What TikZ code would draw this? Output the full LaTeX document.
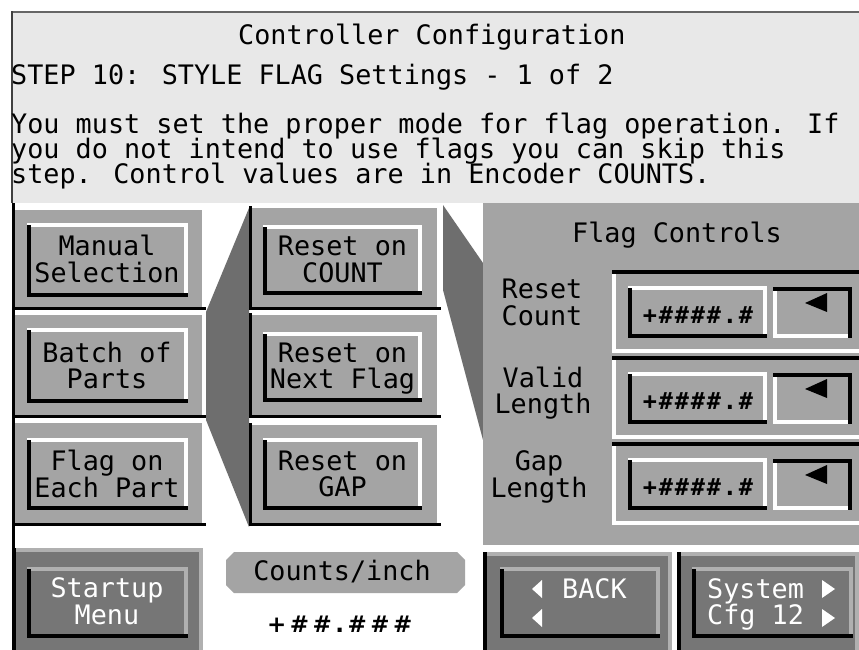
\documentclass[tikz,border=0pt]{standalone}
\usepackage{fontspec}
\newfontfamily\pix{DejaVu Sans Mono}
\newfontfamily\pixfield[LetterSpace=8]{DejaVu Sans Mono Bold}
\newfontfamily\pixwide[LetterSpace=15]{DejaVu Sans Bold}

\definecolor{panelbg}{HTML}{E8E8E8}
\definecolor{btn}{HTML}{A4A4A4}
\definecolor{linkgray}{HTML}{6E6E6E}
\definecolor{dkbtn}{HTML}{767676}
\definecolor{edge}{HTML}{B0B0B0}

% raised face: light top/right edges, black left/bottom edges
\newcommand\raisedface[6]{%
  \fill[#5] (#1,#2) rectangle (#3,#4);
  \fill[#6] (#1,#2) rectangle (#3,#2+4);
  \fill[#6] (#3-4,#2) rectangle (#3,#4);
  \fill[black] (#1,#2+2) rectangle (#1+4,#4);
  \fill[black] (#1,#4-4) rectangle (#3,#4);
}
% outer plate of a key: black left and bottom edges
\newcommand\keyplate[5]{%
  \fill[#5] (#1,#2) rectangle (#3,#4);
  \fill[black] (#1,#2-2) rectangle (#1+3,#4);
  \fill[black] (#1,#4-3) rectangle (#3+4,#4);
}
% dark plate: light top/right edges, black left edge
\newcommand\darkplate[4]{%
  \fill[dkbtn] (#1,#2) rectangle (#3,#4);
  \fill[edge] (#1,#2) rectangle (#3,#2+4);
  \fill[edge] (#3-4,#2) rectangle (#3,#4);
  \fill[black] (#1,#2) rectangle (#1+4,#4);
}
% one row of the flag controls: sunken frame, value field and arrow key
\newcommand\flagrow[2]{%
  \fill[black] (612,#1) rectangle (859,#1+4);
  \fill[white] (612,#1+4) rectangle (616,#1+83);
  \fill[white] (612,#1+79) rectangle (859,#1+83);
  \raisedface{628}{#1+16}{767}{#1+68}{btn}{white}
  \fill[btn] (773,#1+17) rectangle (852,#1+68);
  \fill[white] (773,#1+17) rectangle (777,#1+68);
  \fill[white] (773,#1+64) rectangle (852,#1+68);
  \fill[black] (773,#1+17) rectangle (852,#1+21);
  \fill[black] (848,#1+17) rectangle (852,#1+68);
  \fill[black] (805,#1+33) -- (827,#1+23) -- (827,#1+42) -- cycle;
  \node[fieldtxt] (#2) at (698,#1+53) {+\#\#\#\#.\#};
}

\tikzset{
  txt/.style={font=\pix\fontsize{26.8}{27}\selectfont, inner sep=0pt, anchor=base},
  wtxt/.style={txt, text=white},
  fieldtxt/.style={font=\pixfield\fontsize{23.5}{24}\selectfont, inner sep=0pt, anchor=base},
}

\begin{document}
\begin{tikzpicture}[x=1pt,y=-1pt]
\useasboundingbox (0,0) rectangle (859,650);
\fill[white] (0,0) rectangle (859,650);

% message panel
\fill[panelbg] (12,12) rectangle (859,203);
\fill[black!60] (11,11) rectangle (859,13);
\fill[black!75] (11,11) rectangle (13,203);
\node[txt, anchor=base west] (title) at (238,45) {Controller Configuration};
\node[txt, anchor=base west] (stepline) at (11,85) {STEP 10: STYLE FLAG Settings - 1 of 2};
\node[txt, anchor=base west] (msga) at (11,134) {You must set the proper mode for flag operation. If};
\node[txt, anchor=base west] (msgb) at (11,158.5) {you do not intend to use flags you can skip this};
\node[txt, anchor=base west] (msgc) at (11,183) {step.  Control values are in Encoder COUNTS.};

% left edge of the key area
\fill[black] (12,203) rectangle (15,650);

% shaded links between the columns
\fill[linkgray] (249,208) -- (206,312) -- (206,420) -- (249,527) -- cycle;
\fill[linkgray] (443,205) -- (483,263) -- (483,440) -- (443,290) -- cycle;

% flag controls panel
\fill[btn] (483,203) rectangle (859,545);
\node[txt] (flagctl) at (677,242) {Flag Controls};
\flagrow{270}{valA}
\flagrow{356}{valB}
\flagrow{442}{valC}
\node[txt] (lrA1) at (542,298) {Reset};
\node[txt] (lrA2) at (542,325) {Count};
\node[txt] (lrB1) at (543,387) {Valid};
\node[txt] (lrB2) at (543,413) {Length};
\node[txt] (lrC1) at (539,470) {Gap};
\node[txt] (lrC2) at (539,497) {Length};

% mode keys, left column
\keyplate{12}{210}{202}{310}{btn}
\raisedface{27}{223}{188}{297}{btn}{white}
\node[txt] (k1a) at (107,255) {Manual};
\node[txt] (k1b) at (107,282) {Selection};
\keyplate{12}{315}{202}{418}{btn}
\raisedface{27}{328}{188}{403}{btn}{white}
\node[txt] (k2a) at (107,362) {Batch of};
\node[txt] (k2b) at (107,388) {Parts};
\keyplate{12}{423}{202}{526}{btn}
\raisedface{27}{438}{188}{510}{btn}{white}
\node[txt] (k3a) at (107,470) {Flag on};
\node[txt] (k3b) at (107,497) {Each Part};

% reset keys, middle column
\keyplate{249}{208}{437}{310}{btn}
\raisedface{263}{225}{422}{295}{btn}{white}
\node[txt] (r1a) at (342.5,255) {Reset on};
\node[txt] (r1b) at (342.5,282) {COUNT};
\keyplate{249}{315}{437}{418}{btn}
\raisedface{263}{332}{422}{402}{btn}{white}
\node[txt] (r2a) at (342.5,362) {Reset on};
\node[txt] (r2b) at (342.5,388) {Next Flag};
\keyplate{249}{425}{437}{526}{btn}
\raisedface{263}{438}{422}{510}{btn}{white}
\node[txt] (r3a) at (342.5,470) {Reset on};
\node[txt] (r3b) at (342.5,496) {GAP};

% counts per inch readout
\fill[btn] (234,552) -- (457,552) -- (465,560) -- (465,585) -- (457,593)
  -- (234,593) -- (226,585) -- (226,560) -- cycle;
\node[txt] (cpi) at (342,580) {Counts/inch};
\node[font=\pixwide\fontsize{23}{24}\selectfont, inner sep=0pt, anchor=base west]
  (cpival) at (267,632) {+\#\#.\#\#\#};

% navigation keys
\darkplate{12}{548}{203}{650}
\raisedface{27}{567}{188}{638}{dkbtn}{edge}
\node[wtxt] (startA) at (107,597) {Startup};
\node[wtxt] (startB) at (107,624) {Menu};

\darkplate{483}{552}{672}{650}
\raisedface{500}{567}{660}{638}{dkbtn}{edge}
\fill[white] (532,589) -- (542,580) -- (542,598) -- cycle;
\fill[white] (532,618) -- (542,609) -- (542,627) -- cycle;
\node[wtxt, anchor=base west] (back) at (562,598) {BACK};

\darkplate{677}{552}{859}{650}
\raisedface{692}{567}{853}{638}{dkbtn}{edge}
\node[wtxt, anchor=base west] (sysA) at (707,598) {System};
\node[wtxt, anchor=base west] (sysB) at (707,624) {Cfg 12};
\fill[white] (835,589) -- (822,580) -- (822,598) -- cycle;
\fill[white] (835,618) -- (822,609) -- (822,627) -- cycle;
\end{tikzpicture}
\end{document}
